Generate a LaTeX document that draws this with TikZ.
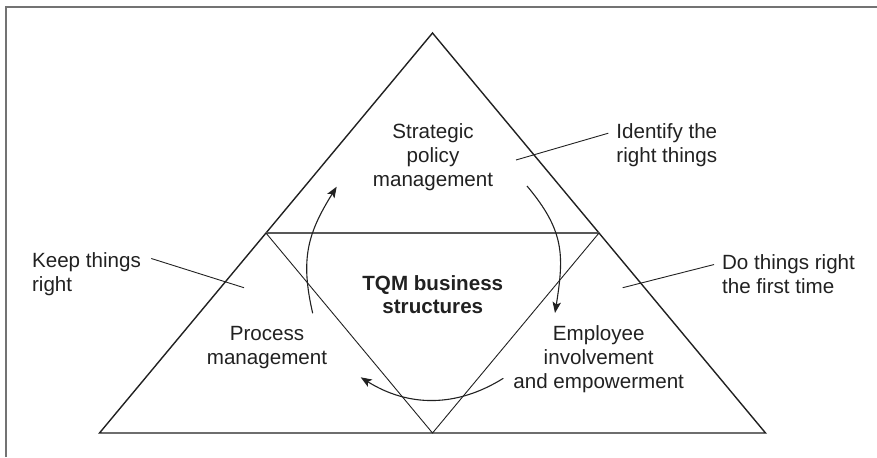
\documentclass[tikz,border=0pt]{standalone}
\usepackage{fontspec}
\setmainfont{Liberation Sans}
\usetikzlibrary{arrows.meta}
\definecolor{ink}{gray}{0.13}
\definecolor{framegray}{gray}{0.45}

\begin{document}
\begin{tikzpicture}[x=0.5pt,y=0.5pt,
    every node/.style={inner sep=0pt,text=ink,font=\fontsize{10.3}{12}\selectfont},
    area/.style={align=center},
    note/.style={align=left,anchor=west},
    leader/.style={ink,line width=0.45pt},
    cyclearrow/.style={ink,line width=0.55pt,
      -{Stealth[length=5.5pt,width=4.2pt,inset=1.2pt]}}]

  \useasboundingbox (0,0) rectangle (877,457);

  % frame, cut at the right and bottom
  \draw [framegray,line width=1pt] (6,0) -- (6,450.3) -- (877,450.3);

  \coordinate (A) at (432.5,424);
  \coordinate (B) at (99.5,24);
  \coordinate (C) at (765.5,24);
  \coordinate (AB) at (266,224);
  \coordinate (AC) at (599,224);
  \coordinate (BC) at (432.5,24);

  \draw [ink,line width=0.7pt] (A) -- (B) -- (C) -- cycle;
  \draw [ink!75,line width=0.6pt] (AB) -- (AC);
  \draw [ink,line width=0.45pt] (AB) -- (BC) -- (AC);

  \node [area] (SP) at (433,299.5) {Strategic\\policy\\management};
  \node [area] (PM) at (267,109.6) {Process\\management};
  \node [area] (EI) at (598.7,98.3) {Employee\\involvement\\and empowerment};
  \node [area,font=\fontsize{10.3}{11.7}\selectfont\bfseries] (TQM)
        at (432.8,162.3) {TQM business\\structures};

  \node [note] (ident) at (616,311.4) {Identify the\\right things};
  \node [note] (keep) at (31.7,182.5) {Keep things\\right};
  \node [note] (doright) at (721.7,182.5) {Do things right\\the first time};

  % leaders into the three corners
  \coordinate (identpt) at (516,297);
  \coordinate (keeppt) at (244,169.3);
  \coordinate (dopt) at (622.7,169.3);
  \draw [leader] ([shift={(-3.85pt,-4.8pt)}]ident.north west) -- (identpt);
  \draw [leader] ([shift={(5pt,-3pt)}]keep.north east) -- (keeppt);
  \draw [leader] ([shift={(-3.85pt,-5pt)}]doright.north west) -- (dopt);

  % the cycle
  \coordinate (pm-out) at (312.7,143.7);
  \coordinate (sp-in) at (336.7,270.3);
  \coordinate (sp-out) at (527,271);
  \coordinate (ei-in) at (555,144);
  \coordinate (ei-out) at (503.3,78.7);
  \coordinate (pm-in) at (360.7,79.7);
  \draw [cyclearrow] (pm-out) to[out=103,in=-122,looseness=1.1] (sp-in);
  \draw [cyclearrow] (sp-out) to[out=-50,in=81,looseness=1.15] (ei-in);
  \draw [cyclearrow] (ei-out) to[out=-148,in=-32] (pm-in);

\end{tikzpicture}
\end{document}
